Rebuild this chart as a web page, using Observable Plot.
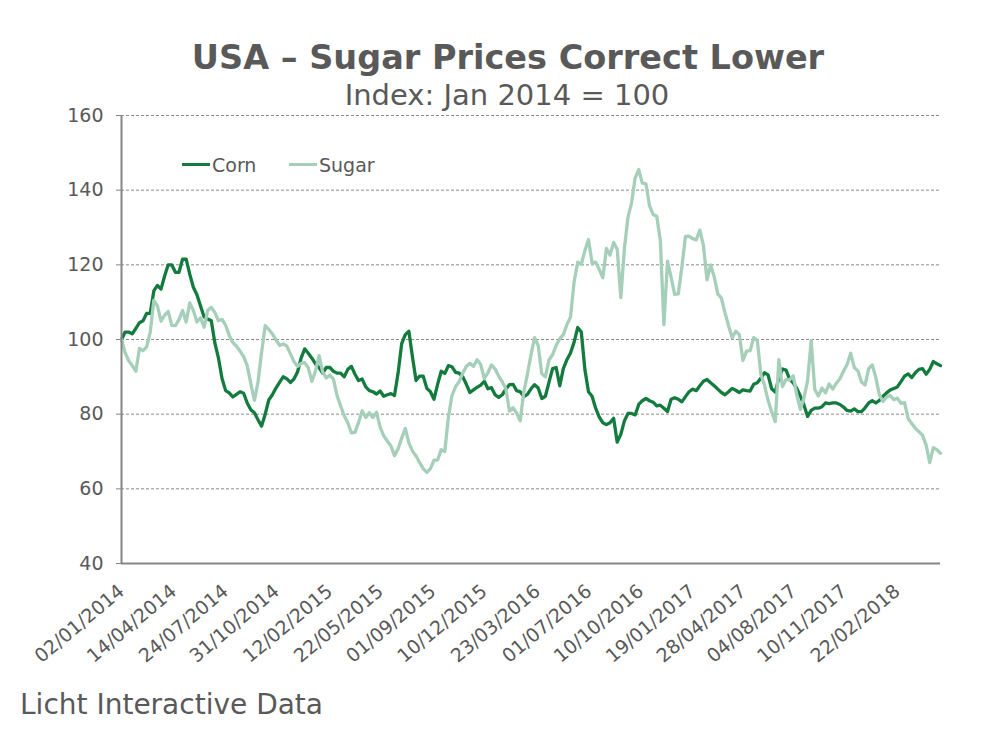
<!DOCTYPE html>
<html>
<head>
<meta charset="utf-8">
<script src="https://cdn.jsdelivr.net/npm/d3@7"></script>
<script src="https://cdn.jsdelivr.net/npm/@observablehq/plot@0.6"></script>
<style>
  html, body { margin: 0; padding: 0; background: #fff; }
  #wrap { position: relative; width: 998px; height: 747px; overflow: hidden;
          font-family: "DejaVu Sans", Verdana, sans-serif; color: #595959; }
  .t { position: absolute; white-space: nowrap; line-height: 1; }
  #title { left: 0; width: 1016px; text-align: center; top: 41px; font-size: 33.5px; font-weight: bold; }
  #subtitle { left: 0; width: 1014px; text-align: center; top: 81px; font-size: 29px; }
  #caption { left: 20px; top: 691px; font-size: 28px; }
  #chart { position: absolute; left: 0; top: 100px; }
  .lg { font-size: 19px; top: 156px; }
  .sw { position: absolute; height: 3px; width: 28px; top: 163px; }
</style>
</head>
<body>
<div id="wrap">
  <div id="title" class="t">USA – Sugar Prices Correct Lower</div>
  <div id="subtitle" class="t">Index: Jan 2014 = 100</div>
  <div id="chart"></div>
  <div class="sw" id="swCorn" style="left:182px"></div>
  <div class="t lg" style="left:212px">Corn</div>
  <div class="sw" id="swSugar" style="left:289px"></div>
  <div class="t lg" style="left:319px">Sugar</div>
  <div id="caption" class="t">Licht Interactive Data</div>
</div>
<script>
// ---- data ----
const seriesNames = ["Corn", "Sugar"];
const seriesColors = ["#137b3e", "#a6cfba"];
const startDate = "2014-01-02";   // first observation
const stepDays = 7;               // weekly observations
const yTicks = [40, 60, 80, 100, 120, 140, 160];
const tickLabels = ["02/01/2014","14/04/2014","24/07/2014","31/10/2014","12/02/2015","22/05/2015",
  "01/09/2015","10/12/2015","23/03/2016","01/07/2016","10/10/2016","19/01/2017","28/04/2017",
  "04/08/2017","10/11/2017","22/02/2018"];

const corn = [
  100,102,102,101.5,103,104.5,105,107,107,113,
  114.5,113.5,117,120,120,118,118,121.5,121.5,117.5,
  114,112,109,106,105.5,105,99,95,89.5,86.3,
  85.7,84.6,85.3,86,85.6,83,81.2,80.4,78.5,76.8,
  80,83.8,85.2,87,88.5,90,89.5,88.5,89.4,91.3,
  95,97.5,96.3,95,93.5,92.5,91,92.5,92.5,91.5,
  91,91,90,92,92.8,90.7,89,89.4,87.3,86.3,
  86,85.4,86.2,84.8,85.2,85.5,85,91,98.9,101.3,
  102.2,95.3,89,90.2,90.2,86.9,86,84,88,91.5,
  90.9,93,92.7,91.2,91,90,88,85.8,86.5,87.2,
  87.8,88.8,86.8,87.1,85.2,84.5,85.2,86.7,87.9,88,
  86.3,86,84.7,85.3,86.8,87.9,87,84.2,84.8,88.5,
  92.2,92.5,87.6,92.2,94.6,96.4,99.3,103.2,102,92,
  86,84.8,81.6,79.2,77.7,77.2,77.7,78.9,72.5,74.6,
  78.2,80.2,80.2,79.8,82.6,83.6,84.2,83.6,83.2,82.2,
  82.4,81.6,80.7,84,84.4,84,83.3,84.7,86,86.7,
  86.3,87.6,88.8,89.3,88.4,87.6,86.7,85.8,85.2,86,
  86.9,86.4,85.8,86.5,86.3,86.2,88,88.4,89.6,91.1,
  90.5,86.8,85.9,89.7,92.1,91.8,89.4,88.4,86.9,84.8,
  82.4,79.4,81,81.6,81.6,82,83,82.8,83,83,
  82.6,81.9,81,80.8,81.4,80.7,80.7,81.7,83,83.6,
  83,83.7,84.8,85.7,86.5,86.9,87.3,88.7,90.2,90.8,
  89.8,91.1,92,92.2,90.7,92,94.1,93.5,93
];

const sugar = [
  100,96.5,94.3,93,91.5,97.6,97,98,102,110.5,
  109,104.9,106.5,107.5,103.8,103.7,105.3,107.8,104.7,109.8,
  107.8,104.7,105.8,103.3,107.8,108.6,107.2,105,105.4,103.8,
  101.1,99.2,98.2,96.9,95.4,93,88.2,83.7,88.6,96.6,
  103.7,102.7,101.5,99.9,98.4,98.8,98.3,96.2,94.1,92.8,
  93.6,93.8,92.4,88.8,91.5,95.7,91.3,89.7,90.5,89.4,
  85,82.2,79.6,77.7,75,75.1,77.8,80.9,79.1,80.4,
  79.1,80.5,76.5,74.2,72.8,71.5,68.9,70.7,73.6,76.2,
  72.3,70.1,68.8,67,65.4,64.4,65.4,67.7,67.7,70.5,
  70,79.2,85,87.4,88.7,91,92.8,93.6,92.8,94.6,
  93.3,89.5,91.1,93.2,92.1,90.2,88.7,86.8,80.8,81.7,
  80.3,78.2,86,90.7,95.9,100.5,98.4,90.8,90,94.5,
  95.9,98.4,100.2,101.3,104,106,115.5,120.7,120.1,123.8,
  126.8,120.5,120.7,118.8,116.5,124.4,122.6,126,124.2,111.2,
  124.3,132.8,136.6,143.3,145.5,141.9,141.7,135.8,133.5,133,
  126.6,104,121,116.7,112.1,112.2,119.4,127.6,127.7,127,
  126.7,129.3,125.2,116,120,116.8,112.2,111.1,107.2,103.7,
  100.5,102.2,101.3,94.4,96.9,97,100.5,99.7,90.6,87.8,
  83.7,80.6,78,94.6,87.4,89.3,89.2,90.3,85.1,81.3,
  84.4,89,99.7,86.6,84.9,87,85.7,88.1,86.7,88.3,
  89.5,91.5,93.3,96.3,92.5,91.6,88.6,87.8,92.2,93.2,
  89.8,85.1,83.4,84.6,85,83.9,84.3,82.9,83.1,78.8,
  77.5,76.2,75.3,74.3,71.7,67,71,70.5,69.5
];

// ---- build ----
const start = d3.utcParse("%Y-%m-%d")(startDate);
const dates = corn.map((_, i) => d3.utcDay.offset(start, i * stepDays));
const rows = [];
[corn, sugar].forEach((arr, s) => arr.forEach((v, i) => rows.push({date: dates[i], value: v, series: seriesNames[s]})));
const parseLabel = d3.utcParse("%d/%m/%Y");
const tickDates = tickLabels.map(parseLabel);
const axisGray = "#868686";

document.getElementById("swCorn").style.background = seriesColors[0];
document.getElementById("swSugar").style.background = seriesColors[1];

const chart = Plot.plot({
  width: 998,
  height: 580,
  marginTop: 15,
  marginLeft: 121,
  marginRight: 58,
  marginBottom: 117,
  style: {fontFamily: '"DejaVu Sans", Verdana, sans-serif', fontSize: "19px", color: "#595959", background: "transparent", overflow: "visible"},
  x: {type: "utc", domain: [start, dates[dates.length - 1]]},
  y: {domain: [40, 160]},
  color: {domain: seriesNames, range: seriesColors},
  marks: [
    Plot.gridY(yTicks.slice(1), {stroke: "#8a8a8a", strokeOpacity: 1, strokeWidth: 1, strokeDasharray: "3,2"}),
    Plot.axisY({ticks: yTicks, tickSize: 5, tickPadding: 13, stroke: axisGray, label: null, fontSize: 19}),
    Plot.axisX({ticks: tickDates, tickFormat: d3.utcFormat("%d/%m/%Y"), tickRotate: -40, tickSize: 0, tickPadding: 25, dx: 0, label: null, fontSize: 19}),
    Plot.lineY(rows.filter(d => d.series === "Corn"), {x: "date", y: "value", stroke: seriesColors[0], strokeWidth: 3.3}),
    Plot.lineY(rows.filter(d => d.series === "Sugar"), {x: "date", y: "value", stroke: seriesColors[1], strokeWidth: 3.3}),
    Plot.ruleX([start], {stroke: axisGray, strokeWidth: 2}),
    Plot.ruleY([40], {stroke: axisGray, strokeWidth: 2})
  ]
});
document.getElementById("chart").appendChild(chart);
</script>
</body>
</html>
